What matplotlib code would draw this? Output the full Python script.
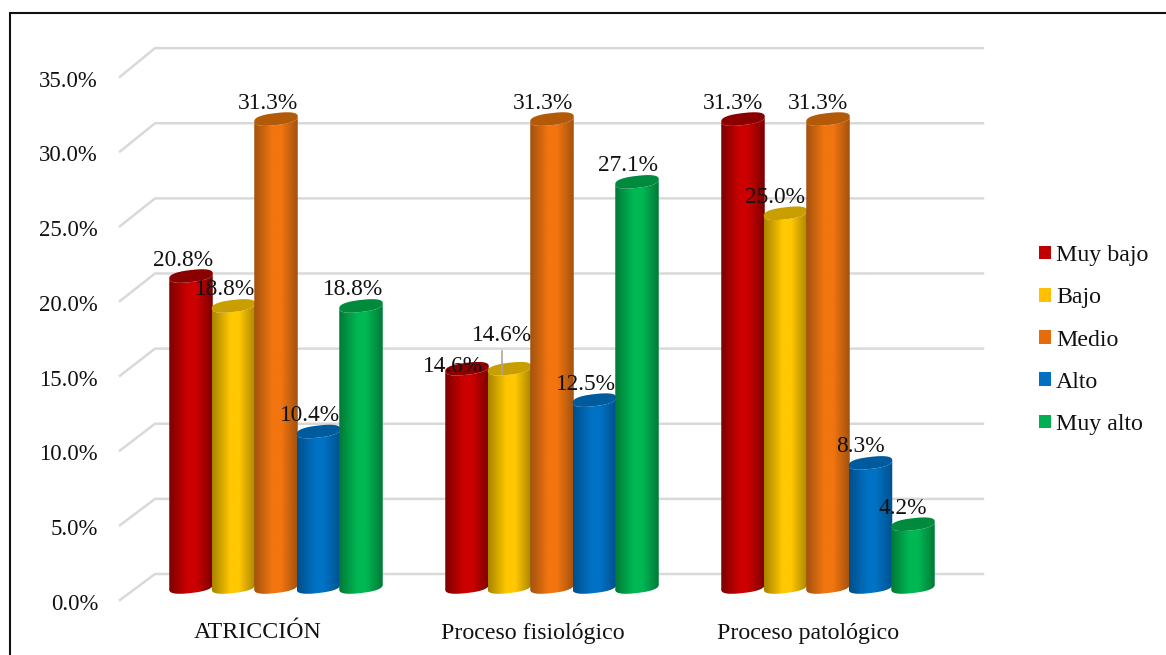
import matplotlib
matplotlib.use("Agg")
import matplotlib.pyplot as plt
import numpy as np
from matplotlib.colors import to_rgb
from matplotlib.patches import Patch, Polygon, Rectangle

plt.rcParams["font.family"] = ["Liberation Serif", "DejaVu Serif"]

categories = ["ATRICCIÓN", "Proceso fisiológico", "Proceso patológico"]
series = ["Muy bajo", "Bajo", "Medio", "Alto", "Muy alto"]
muy_bajo = [20.8, 14.6, 31.3]
bajo = [18.8, 14.6, 25.0]
medio = [31.3, 31.3, 31.3]
alto = [10.4, 12.5, 8.3]
muy_alto = [18.8, 27.1, 4.2]
ticks = [0, 5, 10, 15, 20, 25, 30, 35]

main_colors = ["#cc0000", "#ffc800", "#f2750f", "#0072c4", "#00b853"]
edge_colors = ["#7c0000", "#a98400", "#a3520f", "#004f8c", "#007a38"]
cap_colors = ["#8a0000", "#c99e00", "#b35a08", "#005a9e", "#008a3e"]
legend_colors = ["#c00000", "#ffc000", "#e46c0a", "#0070c0", "#00b050"]

W, H = 1166, 655
PX_PER_UNIT = 14.95
BASE_PX = 587


def x_from_px(px):
    return (px - 276) / 276


def y_from_px(py):
    return (BASE_PX - py) / PX_PER_UNIT


def draw_cylinder(ax, cx, value, width, z, main, edge, cap):
    t = np.linspace(0, 2 * np.pi, 120)
    half = width / 2
    b = 6.0 / PX_PER_UNIT
    tilt = 2.5 / PX_PER_UNIT

    # slightly squared-off ellipse, gives the fuller rim of the cylinder ends
    def ring(c, angles):
        cs = np.sign(np.cos(angles)) * np.abs(np.cos(angles)) ** 0.8
        sn = np.sign(np.sin(angles)) * np.abs(np.sin(angles)) ** 0.8
        return np.column_stack([cx + half * cs, c + b * sn + tilt * cs])

    lower = t[(t >= np.pi)]
    body = np.vstack([ring(0, lower), ring(value, lower[::-1])])

    # horizontal shading across the cylinder
    stops = np.linspace(0, 1, 64)
    pos = [0, 0.42, 0.62, 1]
    e, m = np.array(to_rgb(edge)), np.array(to_rgb(main))
    shade = np.column_stack([np.interp(stops, pos, [e[i], m[i], m[i], e[i]]) for i in range(3)])
    im = ax.imshow(shade[np.newaxis, :, :], extent=(cx - half, cx + half, -1, value + 1),
                   aspect="auto", zorder=z, interpolation="bilinear")
    clip = Polygon(body, closed=True, transform=ax.transData)
    im.set_clip_path(clip)
    ax.add_patch(Polygon(ring(value, t), closed=True, facecolor=cap, edgecolor="none", zorder=z + 0.1))


fig = plt.figure(figsize=(W / 100, H / 100), dpi=100)
ax = fig.add_axes([0, 0, 1, 1])
ax.axis("off")

xlim = (x_from_px(0), x_from_px(W))
ylim = (y_from_px(H), y_from_px(0))

# frame: only the top and left sides fall inside the canvas
ax.add_patch(Rectangle((x_from_px(9.5), y_from_px(H + 10)), x_from_px(W + 10) - x_from_px(9.5),
                       y_from_px(12.5) - y_from_px(H + 10), fill=False, edgecolor="#111111", linewidth=1.5, zorder=1))

# walls of the 3D plot area
depth = 0.87
for v in ticks:
    ax.plot([x_from_px(120), x_from_px(155), x_from_px(983)],
            [v - depth, v * 1.005 + depth, v * 1.005 + depth],
            color="#d9d9d9", linewidth=1.8, solid_joinstyle="miter", zorder=2)
    ax.text(x_from_px(98), v - depth - 0.13, f"{v:.1f}%", ha="right", va="center_baseline", fontsize=16.4, color="#111111")

values = [muy_bajo, bajo, medio, alto, muy_alto]
spacing = 42.5 / 276
label_shift = {(1, 0): (-14, 5), (1, 1): (-7.5, 36)}

for g, cat in enumerate(categories):
    for s in range(len(series)):
        cx = g + (s - 2) * spacing
        v = values[s][g]
        draw_cylinder(ax, cx, v, 43.5 / 276, 3 + s, main_colors[s], edge_colors[s], cap_colors[s])
        dx, dy = label_shift.get((g, s), (-8 - g, 18.5))
        ax.annotate(f"{v:.1f}%", (cx, v), xytext=(dx * 0.72, dy * 0.72), textcoords="offset points",
                    ha="center", va="center_baseline", fontsize=16.8, color="#111111", zorder=20)
    ax.text(g - (18 + g) / 276, y_from_px(630.5), cat, ha="center", va="center_baseline", fontsize=17.2, color="#111111")

# leader line for the second label of the middle group
ax.plot([x_from_px(502)] * 2, [bajo[1] - 0.35, bajo[1] + 1.2], color="#a6a6a6", linewidth=1.2, zorder=15)

ax.set_xlim(xlim)
ax.set_ylim(ylim)

handles = [Patch(facecolor=c, edgecolor="none") for c in legend_colors]
ax.legend(handles, series, loc="center left", bbox_to_anchor=(1032 / W, 1 - 340 / H), frameon=False,
          fontsize=17.2, handlelength=0.51, handleheight=0.51, handletextpad=0.2,
          labelspacing=0.89, borderpad=0, borderaxespad=0.3, labelcolor="#111111")

fig.savefig("out.png", dpi=100)
